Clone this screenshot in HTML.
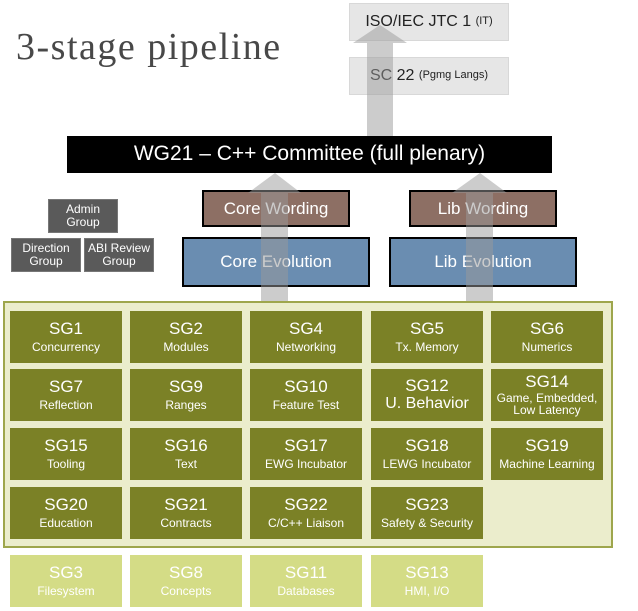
<!DOCTYPE html>
<html><head><meta charset="utf-8"><style>
body{margin:0;width:638px;height:611px;background:#fff;position:relative;overflow:hidden;font-family:"Liberation Sans",sans-serif}
div{position:absolute;box-sizing:border-box}
.c{display:flex;flex-direction:column;align-items:center;justify-content:center;text-align:center;color:#fff;line-height:1.05}
.sg{background:#7b8126;width:112px;height:52px}
.lt{background:#d4dc86;width:112px;height:52px}
.sg b,.lt b{font-weight:normal;font-size:17px}
.sg span,.lt span{font-size:12px;margin-top:3px}
.g{background:#5a5a5a;border:1px solid #777;font-size:12px;line-height:1.1}
</style></head><body>
<div style="left:16px;top:25px;font-family:'Liberation Serif',serif;font-size:38px;letter-spacing:1.5px;color:#484848">3-stage pipeline</div>
<div class="c" style="left:349px;top:3px;width:160px;height:38px;background:#e6e6e6;border:1px solid #d8d8d8;color:#222;flex-direction:row;font-size:16px">ISO/IEC JTC 1&nbsp;<small style="font-size:11px">(IT)</small></div>
<div class="c" style="left:349px;top:57px;width:160px;height:38px;background:#e6e6e6;border:1px solid #d8d8d8;color:#222;flex-direction:row;font-size:16px">SC 22&nbsp;<small style="font-size:11px">(Pgmg Langs)</small></div>
<div class="c" style="left:67px;top:136px;width:485px;height:37px;background:#000;font-size:21px">WG21 – C++ Committee (full plenary)</div>
<div class="c" style="left:202px;top:190px;width:148px;height:37px;background:#8d6f64;border:2px solid #000;font-size:17px">Core Wording</div>
<div class="c" style="left:409px;top:190px;width:148px;height:37px;background:#8d6f64;border:2px solid #000;font-size:17px">Lib Wording</div>
<div class="c" style="left:182px;top:237px;width:188px;height:50px;background:#6a8db1;border:2px solid #000;font-size:17px">Core Evolution</div>
<div class="c" style="left:389px;top:237px;width:188px;height:50px;background:#6a8db1;border:2px solid #000;font-size:17px">Lib Evolution</div>
<div class="c g" style="left:48px;top:199px;width:70px;height:34px">Admin<br>Group</div>
<div class="c g" style="left:11px;top:238px;width:70px;height:34px">Direction<br>Group</div>
<div class="c g" style="left:84px;top:238px;width:70px;height:34px">ABI Review<br>Group</div>
<svg style="position:absolute;left:0;top:0" width="638" height="611">
<g fill="#999" fill-opacity="0.5">
<polygon points="367,136 393,136 393,43 407,43 380,25 353,43 367,43"/>
<polygon points="261,302 288,302 288,193 301,193 275,173 248,193 261,193"/>
<polygon points="466,302 493,302 493,193 507,193 480,173 452,193 466,193"/>
</g></svg>
<div style="left:3px;top:301px;width:610px;height:247px;background:#ebedcc;border:2px solid #9ea64c"></div>
<div class="c sg" style="left:10px;top:311px"><b>SG1</b><span>Concurrency</span></div>
<div class="c sg" style="left:130px;top:311px"><b>SG2</b><span>Modules</span></div>
<div class="c sg" style="left:250px;top:311px"><b>SG4</b><span>Networking</span></div>
<div class="c sg" style="left:371px;top:311px"><b>SG5</b><span>Tx. Memory</span></div>
<div class="c sg" style="left:491px;top:311px"><b>SG6</b><span>Numerics</span></div>
<div class="c sg" style="left:10px;top:369px"><b>SG7</b><span>Reflection</span></div>
<div class="c sg" style="left:130px;top:369px"><b>SG9</b><span>Ranges</span></div>
<div class="c sg" style="left:250px;top:369px"><b>SG10</b><span>Feature Test</span></div>
<div class="c sg" style="left:371px;top:369px"><b>SG12</b><span style="font-size:16px;margin-top:1px">U. Behavior</span></div>
<div class="c sg" style="left:491px;top:369px"><b>SG14</b><span style="margin-top:1px">Game, Embedded,<br>Low Latency</span></div>
<div class="c sg" style="left:10px;top:428px"><b>SG15</b><span>Tooling</span></div>
<div class="c sg" style="left:130px;top:428px"><b>SG16</b><span>Text</span></div>
<div class="c sg" style="left:250px;top:428px"><b>SG17</b><span>EWG Incubator</span></div>
<div class="c sg" style="left:371px;top:428px"><b>SG18</b><span>LEWG Incubator</span></div>
<div class="c sg" style="left:491px;top:428px"><b>SG19</b><span>Machine Learning</span></div>
<div class="c sg" style="left:10px;top:487px"><b>SG20</b><span>Education</span></div>
<div class="c sg" style="left:130px;top:487px"><b>SG21</b><span>Contracts</span></div>
<div class="c sg" style="left:250px;top:487px"><b>SG22</b><span>C/C++ Liaison</span></div>
<div class="c sg" style="left:371px;top:487px"><b>SG23</b><span>Safety &amp; Security</span></div>
<div class="c lt" style="left:10px;top:555px"><b>SG3</b><span>Filesystem</span></div>
<div class="c lt" style="left:130px;top:555px"><b>SG8</b><span>Concepts</span></div>
<div class="c lt" style="left:250px;top:555px"><b>SG11</b><span>Databases</span></div>
<div class="c lt" style="left:371px;top:555px"><b>SG13</b><span>HMI, I/O</span></div>
</body></html>
